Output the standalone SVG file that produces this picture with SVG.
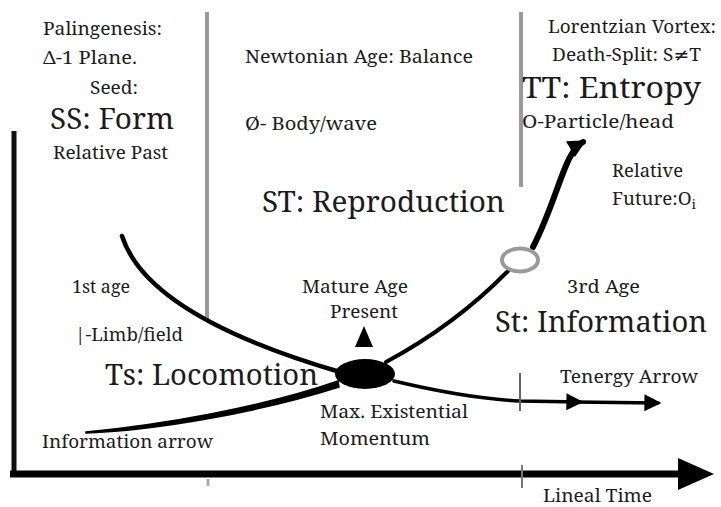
<svg xmlns="http://www.w3.org/2000/svg" width="721" height="507" viewBox="0 0 721 507">
<defs>
<style>
.t{fill:#1c1c1c;font-family:'Noto Serif','Liberation Serif','DejaVu Serif',serif}
.s{font-size:17.5px}
.l{font-size:29px}
.div{stroke:#9a9a9a;stroke-width:4;fill:none}
.curve{stroke:#000;fill:none;stroke-linecap:round}
</style>
<marker id="ah" viewBox="0 0 10 10" refX="8" refY="5" markerWidth="26" markerHeight="17" markerUnits="userSpaceOnUse" orient="auto">
<path d="M0,0 L10,5 L0,10 Z" fill="#000"/>
</marker>
<marker id="ah2" viewBox="0 0 10 10" refX="8" refY="5" markerWidth="20" markerHeight="18" markerUnits="userSpaceOnUse" orient="auto">
<path d="M0,0 L10,5 L0,10 Z" fill="#000"/>
</marker>
</defs>
<rect width="721" height="507" fill="#fff"/>

<g id="frame">
<line class="div" x1="207" y1="12" x2="207" y2="319"/>
<line class="div" x1="521" y1="12" x2="521" y2="187"/>
<line x1="14" y1="131" x2="14" y2="471" stroke="#111" stroke-width="5"/>
<line x1="10" y1="474" x2="682" y2="474" stroke="#000" stroke-width="7"/>
<polygon points="678,458 714,474 678,490" fill="#000"/>
<line x1="522" y1="465" x2="522" y2="488" stroke="#777" stroke-width="2"/>
<line x1="208" y1="479" x2="208" y2="486" stroke="#aaa" stroke-width="3"/>
</g>

<g id="connectors">
<path class="curve" d="M122,236 C140,292 220,337 340,372" stroke-width="4.5"/>
<path d="M86,432 C160,425 260,408 338,381 L339,387 C260,412 160,430 86,433 Z" fill="#000" stroke="#000" stroke-width="1.5"/>
<path class="curve" d="M386,362 Q455,325 508,271" stroke-width="4"/>
<path class="curve" d="M533,247 C548,218 556,190 565,168 C570,155 576,146 583,142" stroke-width="6" marker-end="url(#ah2)"/>
<path class="curve" d="M394,381 C440,392 480,399 520,401 L580,402" stroke-width="3.5" marker-end="url(#ah)"/>
<path class="curve" d="M575,402 L658,403" stroke-width="3.5" marker-end="url(#ah)"/>
<line x1="520" y1="373" x2="520" y2="411" stroke="#666" stroke-width="2"/>
</g>

<g id="center">
<ellipse cx="365" cy="374" rx="30" ry="15" fill="#000"/>
<polygon points="364,326 373,347 355,347" fill="#000"/>
<ellipse cx="520" cy="260" rx="18" ry="11.5" fill="#fff" stroke="#9a9a9a" stroke-width="4"/>
</g>

<g id="seed" class="t">
<text class="s" x="43" y="35" textLength="119" lengthAdjust="spacingAndGlyphs">Palingenesis:</text>
<text class="s" x="43" y="64" textLength="94" lengthAdjust="spacingAndGlyphs">Δ-1 Plane.</text>
<text class="s" x="90" y="94" textLength="48" lengthAdjust="spacingAndGlyphs">Seed:</text>
<text class="l" x="50" y="129" textLength="124" lengthAdjust="spacingAndGlyphs">SS: Form</text>
<text class="s" x="53" y="159" textLength="115" lengthAdjust="spacingAndGlyphs">Relative Past</text>
</g>

<g id="newtonian" class="t">
<text class="s" x="245" y="63" textLength="228" lengthAdjust="spacingAndGlyphs">Newtonian Age: Balance</text>
<text class="s" x="245" y="130" textLength="132" lengthAdjust="spacingAndGlyphs">Ø- Body/wave</text>
<text class="l" x="262" y="212" textLength="243" lengthAdjust="spacingAndGlyphs">ST: Reproduction</text>
</g>

<g id="lorentzian" class="t">
<text class="s" x="548" y="33" textLength="168" lengthAdjust="spacingAndGlyphs">Lorentzian Vortex:</text>
<text class="s" x="552" y="61" textLength="149" lengthAdjust="spacingAndGlyphs">Death-Split: S<tspan font-family="DejaVu Sans">≠</tspan>T</text>
<text class="l" x="522" y="98" textLength="179" lengthAdjust="spacingAndGlyphs">TT: Entropy</text>
<text class="s" x="522" y="128" textLength="152" lengthAdjust="spacingAndGlyphs">O-Particle/head</text>
<text class="s" x="612" y="177" textLength="71" lengthAdjust="spacingAndGlyphs">Relative</text>
<text class="s" x="612" y="205" textLength="84" lengthAdjust="spacingAndGlyphs">Future:O<tspan font-size="13" dy="4">i</tspan></text>
</g>

<g id="first-age" class="t">
<text class="s" x="72" y="293" textLength="58" lengthAdjust="spacingAndGlyphs">1st age</text>
<text class="s" x="75" y="341" textLength="108" lengthAdjust="spacingAndGlyphs">|-Limb/field</text>
<text class="l" x="105" y="385" textLength="213" lengthAdjust="spacingAndGlyphs">Ts: Locomotion</text>
<text class="s" x="42" y="448" textLength="171" lengthAdjust="spacingAndGlyphs">Information arrow</text>
</g>

<g id="mature-age" class="t">
<text class="s" x="302" y="293" textLength="106" lengthAdjust="spacingAndGlyphs">Mature Age</text>
<text class="s" x="330" y="318" textLength="68" lengthAdjust="spacingAndGlyphs">Present</text>
<text class="s" x="320" y="418" textLength="148" lengthAdjust="spacingAndGlyphs">Max. Existential</text>
<text class="s" x="320" y="445" textLength="110" lengthAdjust="spacingAndGlyphs">Momentum</text>
</g>

<g id="third-age" class="t">
<text class="s" x="567" y="293" textLength="73" lengthAdjust="spacingAndGlyphs">3rd Age</text>
<text class="l" x="495" y="332" textLength="212" lengthAdjust="spacingAndGlyphs">St: Information</text>
<text class="s" x="560" y="383" textLength="138" lengthAdjust="spacingAndGlyphs">Tenergy Arrow</text>
<text class="s" x="543" y="502" textLength="109" lengthAdjust="spacingAndGlyphs">Lineal Time</text>
</g>
</svg>
